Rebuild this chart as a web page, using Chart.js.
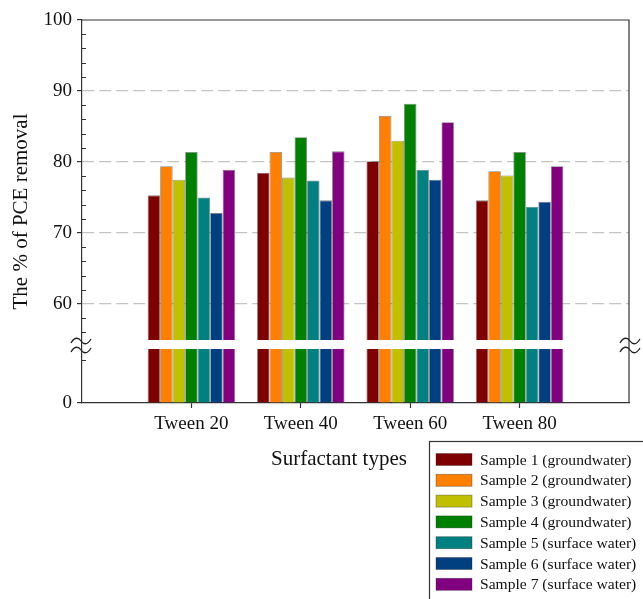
<!DOCTYPE html>
<html><head><meta charset="utf-8">
<script src="https://cdn.jsdelivr.net/npm/chart.js@4.4.0/dist/chart.umd.min.js"></script>
<style>html,body{margin:0;padding:0;background:#fff}#wrap{position:relative;width:643px;height:599px}</style>
</head><body><div id="wrap"><canvas id="c" width="643" height="599"></canvas></div>
<script>
// ---- data ----
const categories = ['Tween 20', 'Tween 40', 'Tween 60', 'Tween 80'];
const seriesNames = [
  'Sample 1 (groundwater)', 'Sample 2 (groundwater)', 'Sample 3 (groundwater)',
  'Sample 4 (groundwater)', 'Sample 5 (surface water)', 'Sample 6 (surface water)',
  'Sample 7 (surface water)'
];
const sample1 = [75.3, 78.5, 80.1, 74.6];
const sample2 = [79.4, 81.4, 86.5, 78.7];
const sample3 = [77.5, 77.8, 83.0, 78.1];
const sample4 = [81.4, 83.5, 88.2, 81.4];
const sample5 = [75.0, 77.4, 78.9, 73.7];
const sample6 = [72.8, 74.6, 77.5, 74.4];
const sample7 = [78.9, 81.5, 85.6, 79.4];
const yTickLabels = ['0', '60', '70', '80', '90', '100'];
const yTickValues = [0, 60, 70, 80, 90, 100];

// ---- styling ----
const seriesColors = ['#7f0000', '#ff8000', '#c0c000', '#008000', '#008080', '#004080', '#800080'];
const FONT = '"Liberation Serif", "Times New Roman", serif';
Chart.defaults.font.family = FONT;
Chart.defaults.color = '#222';

// broken axis: values below the break are drawn in a short segment at the bottom
const Y0 = 100 - 383 / 7.1;           // axis position of the "0" label
const toAxis = v => (v < 60 ? Y0 + v : v);
const allSeries = [sample1, sample2, sample3, sample4, sample5, sample6, sample7];
const paddedLabels = ['', ...categories, ''];

const datasets = allSeries.map((s, i) => ({
  label: seriesNames[i],
  data: [null, ...s, null],
  backgroundColor: seriesColors[i],
  borderColor: 'rgba(30,30,30,0.55)',
  borderWidth: 0.8,
  base: Y0,
  categoryPercentage: 0.8,
  barPercentage: 1.0
}));

const decor = {
  id: 'decor',
  afterDatasetsDraw(chart) {
    const {ctx, chartArea: a, scales: {y}} = chart;
    ctx.save();
    // break band
    const bt = y.getPixelForValue(54.93), bb = y.getPixelForValue(53.66);
    ctx.fillStyle = '#fff';
    ctx.fillRect(a.left + 1, bt, a.right - a.left - 2, bb - bt);
    // frame top + right
    ctx.strokeStyle = '#333';
    ctx.lineWidth = 1.2;
    ctx.beginPath();
    ctx.moveTo(a.left, a.top); ctx.lineTo(a.right, a.top); ctx.lineTo(a.right, a.bottom);
    ctx.stroke();
    // minor ticks
    const minors = [Y0 + 6, 56, 58, 62, 64, 66, 68, 72, 74, 76, 78, 82, 84, 86, 88, 92, 94, 96, 98];
    ctx.lineWidth = 1;
    ctx.beginPath();
    minors.forEach(v => { const p = Math.round(y.getPixelForValue(v)) + 0.5; ctx.moveTo(a.left, p); ctx.lineTo(a.left + 4, p); });
    ctx.stroke();
    // break symbols
    const tilde = (cx, yy) => {
      ctx.beginPath();
      ctx.moveTo(cx - 10, yy + 2);
      ctx.bezierCurveTo(cx - 6, yy - 5, cx - 2, yy - 3, cx, yy);
      ctx.bezierCurveTo(cx + 2, yy + 3, cx + 6, yy + 5, cx + 10, yy - 2);
      ctx.stroke();
    };
    ctx.lineWidth = 1.3;
    ctx.strokeStyle = '#222';
    [a.left - 1, a.right + 1].forEach(cx => { tilde(cx, bt + 1); tilde(cx, bb + 1); });
    // x axis title
    ctx.fillStyle = '#111';
    ctx.font = '21px ' + FONT;
    ctx.textAlign = 'center';
    ctx.textBaseline = 'middle';
    ctx.fillText('Surfactant types', 339, 459);
    // legend
    ctx.fillStyle = '#fff';
    ctx.fillRect(429.5, 441.5, 260, 200);
    ctx.strokeStyle = '#333';
    ctx.lineWidth = 1.2;
    ctx.strokeRect(429.5, 441.5, 260, 200);
    ctx.font = '15.6px ' + FONT;
    ctx.textAlign = 'left';
    chart.data.datasets.forEach((ds, i) => {
      const cy = 459.5 + i * 20.8;
      ctx.fillStyle = ds.backgroundColor;
      ctx.fillRect(436, cy - 6, 36, 12);
      ctx.strokeStyle = 'rgba(30,30,30,0.4)';
      ctx.lineWidth = 0.8;
      ctx.strokeRect(436, cy - 6, 36, 12);
      ctx.fillStyle = '#111';
      ctx.fillText(ds.label, 480, cy + 1);
    });
    ctx.restore();
  }
};

new Chart(document.getElementById('c'), {
  type: 'bar',
  data: { labels: paddedLabels, datasets },
  options: {
    responsive: false,
    animation: false,
    layout: { padding: { top: 20, right: 14, bottom: 0, left: 0 } },
    plugins: { legend: { display: false }, tooltip: { enabled: false } },
    scales: {
      x: {
        type: 'category',
        offset: false,
        grid: {
          offset: false,
          drawOnChartArea: false,
          drawTicks: true,
          tickLength: 5,
          tickWidth: 1.2,
          tickColor: c => (c.index === 0 || c.index === paddedLabels.length - 1) ? 'rgba(0,0,0,0)' : '#333'
        },
        border: { color: '#333', width: 1.2 },
        ticks: { font: { size: 19 }, color: '#111', padding: 5, maxRotation: 0, autoSkip: false },
        afterFit: s => { s.height = 196; }
      },
      y: {
        min: Y0,
        max: 100,
        afterBuildTicks: s => { s.ticks = yTickValues.map(v => ({ value: toAxis(v) })); },
        ticks: {
          font: { size: 19 },
          color: '#111',
          padding: 5,
          callback: (v, i) => yTickLabels[i]
        },
        grid: {
          color: c => (c.tick && (c.index === 0 || c.index === yTickValues.length - 1)) ? 'rgba(0,0,0,0)' : '#c4c4c4',
          lineWidth: 1.2,
          tickLength: 5,
          tickWidth: 1.2,
          tickColor: '#333'
        },
        border: { color: '#333', width: 1.2, dash: [12, 5] },
        title: {
          display: true,
          text: 'The % of PCE removal',
          font: { size: 21 },
          color: '#111',
          padding: { top: 9, bottom: 0 }
        },
        afterFit: s => { s.width = 82; }
      }
    }
  },
  plugins: [decor]
});
</script>
</body></html>
